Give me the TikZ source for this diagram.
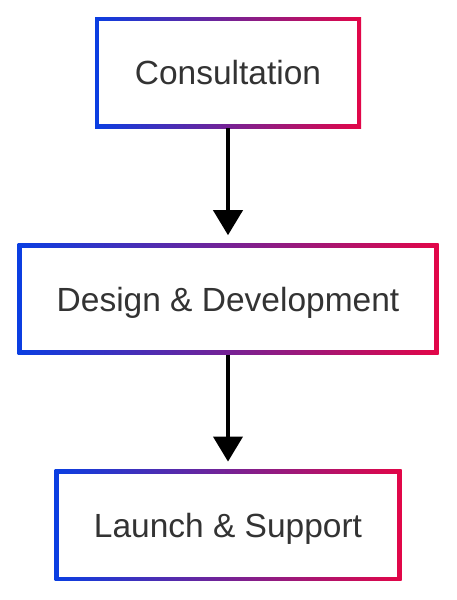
\documentclass[tikz,border=0pt]{standalone}
\usepackage{fontspec}
\setmainfont{Liberation Sans}
\usepackage{tikz}
\usetikzlibrary{arrows.meta,positioning}
\definecolor{gblue}{RGB}{10,62,226}
\definecolor{gred}{RGB}{226,6,72}
\definecolor{gtext}{RGB}{51,51,51}
\tikzstyle{stage} = [
  rectangle,
  minimum height=111pt,
  text depth=0pt,
  left color=gblue,
  right color=gred,
  text=gtext,
  font=\fontsize{33.5}{40}\selectfont,
  path picture={
    \fill[white]
      ([shift={(4.2pt,-4.2pt)}]path picture bounding box.north west)
      rectangle
      ([shift={(-4.2pt,4.2pt)}]path picture bounding box.south east);
  },
]
\tikzstyle{flow} = [
  line width=4pt,
  -{Triangle[width=29pt,length=25pt]},
  shorten >=8pt,
]

\begin{document}
\begin{tikzpicture}[
    auto,
    node distance=115pt,
  ]
  \useasboundingbox (0,0) rectangle (457pt,-600pt);
  \node[
    stage,
    minimum width=266pt,
  ] (consult) at (228pt,-72.5pt) {Consultation};
  \node[
    stage,
    minimum width=421pt,
    below=of consult,
  ] (design) {Design \& Development};
  \node[
    stage,
    minimum width=347pt,
    below=of design,
  ] (launch) {Launch \& Support};
  \path [flow] (consult) edge (design);
  \path [flow] (design) edge (launch);
\end{tikzpicture}
\end{document}
